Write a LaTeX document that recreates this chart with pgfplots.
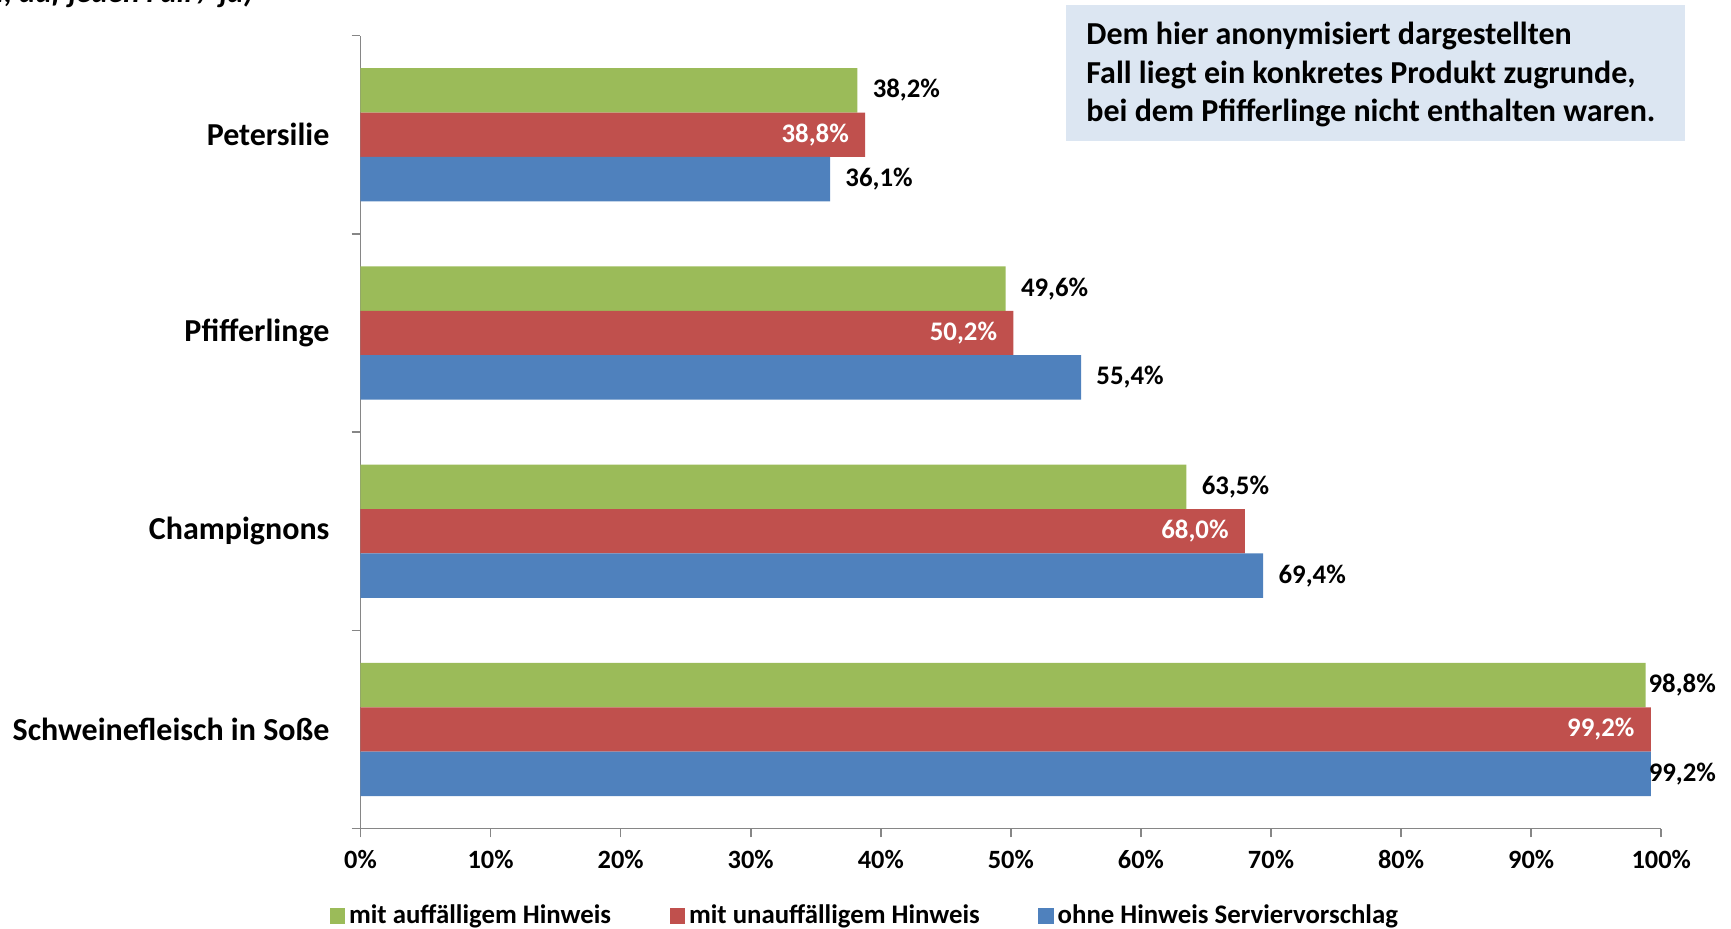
\documentclass[border=0pt]{standalone}
\usepackage{fontspec}
\setmainfont{Carlito}
\usepackage{pgfplots}
\pgfplotsset{compat=1.18}
\usepackage{pgfplotstable}

\definecolor{cgreen}{HTML}{9BBB59}
\definecolor{cred}{HTML}{C0504D}
\definecolor{cblue}{HTML}{4F81BD}
\definecolor{cbox}{HTML}{DCE6F2}
\definecolor{caxis}{HTML}{868686}

% y: 3 = Petersilie ... 0 = Schweinefleisch in Sosse; dx = label offset (pt)
\pgfplotstableread{
y x dx
3 38.2 7.5
2 49.6 7.5
1 63.5 7.5
0 98.8 1.3
}\greendata
\pgfplotstableread{
y x
3 38.8
2 50.2
1 68.0
0 99.2
}\reddata
\pgfplotstableread{
y x dx
3 36.1 7.5
2 55.4 7.5
1 69.4 7.5
0 99.2 -1.2
}\bluedata

\begin{document}
\begin{tikzpicture}
\path[use as bounding box] (0,0) rectangle (865.5pt,464pt);

\node[anchor=base east, font=\fontsize{15.5}{18}\selectfont\bfseries\itshape]
  at (130.3pt,462.6pt) {ja, auf jeden Fall / ja)};

\fill[cbox] (533pt,461.25pt) rectangle (842.5pt,393.5pt);
\begin{scope}[every node/.style={anchor=base west, inner sep=0pt,
    font=\fontsize{16}{19}\selectfont\bfseries}]
  \node at (543pt,441.5pt) {Dem hier anonymisiert dargestellten};
  \node at (543pt,422.25pt) {Fall liegt ein konkretes Produkt zugrunde,};
  \node at (543pt,403pt) {bei dem Pfifferlinge nicht enthalten waren.};
\end{scope}

\begin{axis}[
    at={(180.25pt,49.7pt)}, anchor=south west,
    scale only axis, width=650.35pt, height=396.5pt,
    xbar, bar width=22.2pt,
    xmin=0, xmax=100, ymin=-0.5, ymax=3.5,
    enlargelimits=false, clip=false,
    axis lines*=left,
    axis line style={caxis, line width=0.8pt},
    tick style={caxis, line width=0.8pt},
    tick align=outside, major tick length=4.4pt,
    /pgf/number format/assume math mode=true,
    xtick={0,10,...,100},
    xticklabel={\pgfmathprintnumber{\tick}\%},
    xticklabel style={font=\fontsize{13.2}{15}\selectfont\bfseries, yshift=-3pt},
    ytick={-0.5,0.5,1.5,2.5,3.5}, yticklabels={},
    extra y ticks={0,1,2,3},
    extra y tick labels={Schweinefleisch in Soße, Champignons, Pfifferlinge, Petersilie},
    extra y tick style={major tick length=0pt,
      yticklabel style={font=\fontsize{16}{19}\selectfont\bfseries, xshift=-12pt}},
    nodes near coords={\pgfmathprintnumber[fixed,fixed zerofill,precision=1,use comma]{\pgfplotspointmeta}\%},
    every node near coord/.append style={font=\fontsize{13.4}{15}\selectfont\bfseries, inner sep=0pt},
    legend columns=3,
    legend style={at={(-0.024,-0.110)}, anchor=west, draw=none, fill=none,
      inner sep=0pt, font=\fontsize{13.4}{15}\selectfont\bfseries,
      /tikz/every even column/.append style={column sep=27.3pt}},
    legend cell align=left,
    legend image code/.code={\fill[#1,draw=none] (0pt,-3.85pt) rectangle (7.7pt,3.85pt);},
]
\addplot[fill=cgreen, draw=none, bar shift=22.2pt,
    visualization depends on={\thisrow{dx}\as\dx},
    nodes near coords style={anchor=west, xshift=\dx pt}]
    table[x=x, y=y] {\greendata};
\addplot[fill=cred, draw=none, bar shift=0pt,
    nodes near coords style={anchor=east, xshift=-8pt, text=white}]
    table[x=x, y=y] {\reddata};
\addplot[fill=cblue, draw=none, bar shift=-22.2pt,
    visualization depends on={\thisrow{dx}\as\dx},
    nodes near coords style={anchor=west, xshift=\dx pt}]
    table[x=x, y=y] {\bluedata};
\legend{mit auffälligem Hinweis, mit unauffälligem Hinweis, ohne Hinweis Serviervorschlag}
\end{axis}
\end{tikzpicture}
\end{document}
